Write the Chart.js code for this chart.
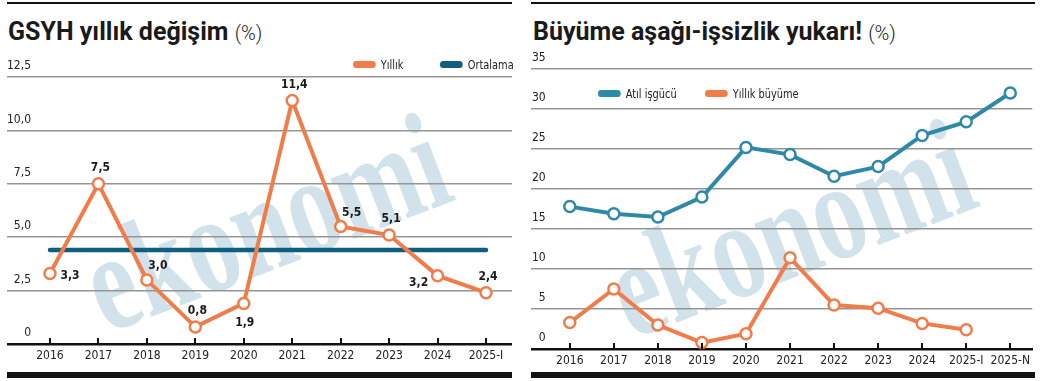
<!DOCTYPE html>
<html>
<head>
<meta charset="utf-8">
<script src="https://cdn.jsdelivr.net/npm/chart.js@4.4.1/dist/chart.umd.min.js"></script>
<style>
  body { margin:0; width:1044px; height:381px; position:relative; background:#fff; overflow:hidden; }
  .abs { position:absolute; }
  .rule { background:#111; height:2px; top:2px; }
  .bar { background:#111; height:6px; top:372px; }
  .title { top:19px; font:bold 25px/25px Roboto, "Noto Sans", sans-serif; color:#1a1a1a; white-space:nowrap; }
  .title span { font-weight:300; font-size:20px; color:#222; }
  .wm { font:bold 108px/1 "Liberation Serif", "DejaVu Serif", serif; color:#d2e2eb; white-space:nowrap;
        transform:translate(-50%,-50%) rotate(-21deg) scale(0.95,1.3); }
  .box { z-index:2; }
  .leg { z-index:3; font:13px/14px "DejaVu Sans Condensed", "Liberation Sans", sans-serif; color:#222; white-space:nowrap;
         transform:scaleX(0.84); transform-origin:0 50%; }
  .leg i { display:inline-block; width:27px; height:7px; border-radius:4px; margin-right:6px; vertical-align:1px; }
</style>
</head>
<body>

<div class="abs rule" style="left:7px;width:505px"></div>
<div class="abs title" style="left:8px">GSYH yıllık değişim <span>(%)</span></div>
<div class="abs wm" style="left:265px;top:223px">ekonomi</div>
<div class="abs leg" style="left:353px;top:58px"><i style="background:#f07c4a"></i>Yıllık</div>
<div class="abs leg" style="left:440px;top:58px"><i style="background:#0d5e7f"></i>Ortalama</div>
<div class="abs box" style="left:7px;top:60px;width:505px;height:312px"><canvas id="chart-gdp"></canvas></div>
<div class="abs bar" style="left:7px;width:505px"></div>

<div class="abs rule" style="left:531px;width:504px"></div>
<div class="abs title" style="left:533px">Büyüme aşağı-işsizlik yukarı! <span>(%)</span></div>
<div class="abs wm" style="left:790px;top:229px">ekonomi</div>
<div class="abs leg" style="left:598px;top:87px"><i style="background:#2e88a8"></i>Atıl işgücü</div>
<div class="abs leg" style="left:705px;top:87px"><i style="background:#f07c4a"></i>Yıllık büyüme</div>
<div class="abs box" style="left:531px;top:45px;width:504px;height:332px"><canvas id="chart-jobs"></canvas></div>
<div class="abs bar" style="left:531px;width:504px;z-index:4"></div>

<script>
    // ─── Data ───────────────────────────────────────────────────────────
    const gdpYears = ['2016','2017','2018','2019','2020','2021','2022','2023','2024','2025-I'];
    const gdpGrowth = [3.3, 7.5, 3.0, 0.8, 1.9, 11.4, 5.5, 5.1, 3.2, 2.4];
    const gdpAverage = [4.4, 4.4, 4.4, 4.4, 4.4, 4.4, 4.4, 4.4, 4.4, 4.4];
    const gdpTicks = [0, 2.5, 5, 7.5, 10, 12.5];

    const jobYears = ['2016','2017','2018','2019','2020','2021','2022','2023','2024','2025-I','2025-N'];
    const idleLabour = [17.8, 16.9, 16.5, 19.0, 25.2, 24.3, 21.6, 22.8, 26.7, 28.4, 32.0];
    const jobTicks = [0, 5, 10, 15, 20, 25, 30, 35];

    // where each value label sits next to its point
    const gdpLabelSpots = ['right','top','topRight','top','bottom','top','topRight','top','left','top'];
    const spotOffsets = { right:[20,2], top:[2,-16], topRight:[11,-14], bottom:[1,19], left:[-19,7] };

    const ORANGE = '#f07c4a', NAVY = '#0d5e7f', TEAL = '#2e88a8';
    const NARROW = '"DejaVu Sans Condensed", "Liberation Sans", sans-serif';

    // small upward tick marks on the x axis line
    const axisTicks = {
        id: 'axisTicks',
        afterDatasetsDraw(chart) {
            const { ctx, chartArea } = chart, x = chart.scales.x;
            ctx.save();
            ctx.strokeStyle = '#111'; ctx.lineWidth = 2;
            x.ticks.forEach(t => {
                const px = Math.round(x.getPixelForValue(t.value));
                ctx.beginPath(); ctx.moveTo(px, chartArea.bottom); ctx.lineTo(px, chartArea.bottom - 6); ctx.stroke();
            });
            ctx.restore();
        }
    };

    function valueLabels(spots) {
        return {
            id: 'valueLabels',
            afterDatasetsDraw(chart) {
                const ctx = chart.ctx, meta = chart.getDatasetMeta(0), data = chart.data.datasets[0].data;
                ctx.save();
                ctx.font = 'bold 12px ' + NARROW;
                ctx.fillStyle = '#1a1a1a'; ctx.textAlign = 'center'; ctx.textBaseline = 'middle';
                meta.data.forEach((pt, i) => {
                    const [dx, dy] = spotOffsets[spots[i]];
                    ctx.fillText(data[i].y.toFixed(1).replace('.', ','), pt.x + dx, pt.y + dy);
                });
                ctx.restore();
            }
        };
    }

    function drawLines(id, cfg) {
        const ds = cfg.series.map(s => ({
            label: s.label,
            data: s.data.map((v, i) => ({ x: i, y: v })),
            borderColor: s.color,
            borderWidth: s.width || 4,
            borderCapStyle: 'round',
            pointRadius: s.points === false ? 0 : 5.5,
            pointBorderWidth: 2.5,
            pointBorderColor: s.color,
            pointBackgroundColor: '#fff',
            tension: 0,
            clip: false
        }));
        return new Chart(document.getElementById(id), {
            type: 'line',
            data: { datasets: ds },
            options: {
                responsive: true, maintainAspectRatio: false, animation: false, events: [],
                layout: { autoPadding: false, padding: { top: cfg.top, left: 0, right: 0, bottom: 0 } },
                plugins: { legend: { display: false }, tooltip: { enabled: false } },
                scales: {
                    x: {
                        type: 'linear', min: cfg.xMin, max: cfg.xMax,
                        afterBuildTicks: s => { s.ticks = cfg.labels.map((_, i) => ({ value: i })); },
                        afterFit: s => { s.height = 28; },
                        grid: { display: false, drawTicks: false },
                        border: { color: '#111', width: 2.5 },
                        ticks: { autoSkip: false, maxRotation: 0, padding: 5, color: '#222',
                                 font: { family: NARROW, size: 12 }, callback: v => cfg.labels[v] }
                    },
                    y: {
                        min: 0, max: cfg.yTicks[cfg.yTicks.length - 1],
                        afterBuildTicks: s => { s.ticks = cfg.yTicks.map(v => ({ value: v })); },
                        afterFit: s => { s.width = 0; },
                        border: { display: false },
                        grid: { color: c => c.tick && c.tick.value === 0 ? 'rgba(0,0,0,0)' : '#959595', lineWidth: 1.5, drawTicks: false },
                        ticks: { mirror: true, crossAlign: 'far', padding: cfg.yPad, labelOffset: -11, color: '#222',
                                 font: { family: NARROW, size: 12 }, callback: cfg.yFormat }
                    }
                }
            },
            plugins: cfg.plugins
        });
    }

    drawLines('chart-gdp', {
        labels: gdpYears, xMin: -0.887, xMax: 9.536, top: 17, yPad: 0, yTicks: gdpTicks,
        yFormat: v => v === 0 ? '0' : v.toFixed(1).replace('.', ','),
        series: [
            { label: 'Yıllık', data: gdpGrowth, color: ORANGE },
            { label: 'Ortalama', data: gdpAverage, color: NAVY, width: 4.5, points: false }
        ],
        plugins: [axisTicks, valueLabels(gdpLabelSpots)]
    });

    drawLines('chart-jobs', {
        labels: jobYears, xMin: -0.88, xMax: 10.5, top: 24, yPad: 1, yTicks: jobTicks,
        yFormat: v => String(v),
        series: [
            { label: 'Atıl işgücü', data: idleLabour, color: TEAL },
            { label: 'Yıllık büyüme', data: gdpGrowth, color: ORANGE }
        ],
        plugins: [axisTicks]
    });
</script>
</body>
</html>
